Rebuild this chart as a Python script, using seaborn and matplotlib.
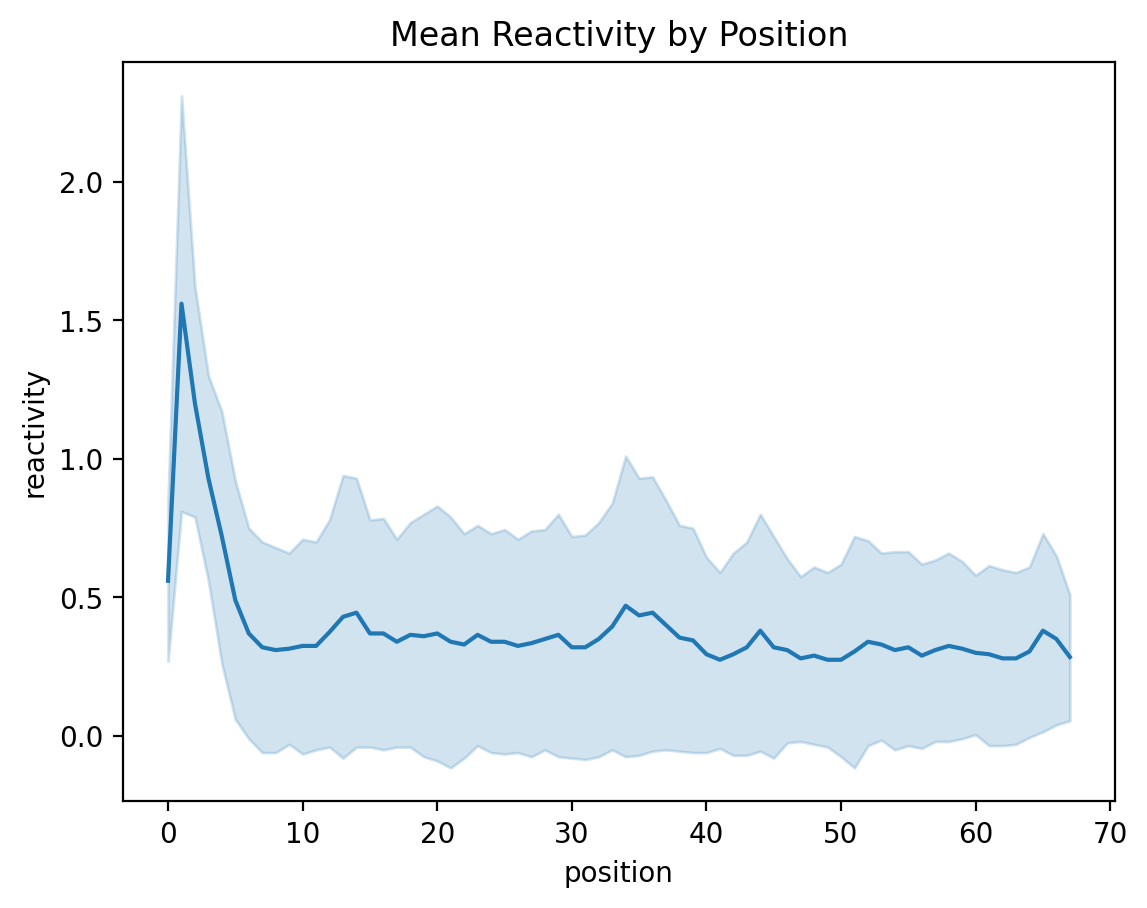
import matplotlib
matplotlib.use('Agg')
import matplotlib.pyplot as plt
import seaborn as sns
import numpy as np
import pandas as pd

# Mean reactivity per position, with the +/- 1 sd band
position = list(range(68))

mean_reactivity = [
    0.56, 1.56, 1.20, 0.93, 0.72, 0.49, 0.37, 0.32, 0.31, 0.315,
    0.325, 0.325, 0.375, 0.43, 0.445, 0.37, 0.37, 0.34, 0.365, 0.36,
    0.37, 0.34, 0.33, 0.365, 0.34, 0.34, 0.325, 0.335, 0.35, 0.365,
    0.32, 0.32, 0.35, 0.395, 0.47, 0.435, 0.445, 0.40, 0.355, 0.345,
    0.295, 0.275, 0.295, 0.32, 0.38, 0.32, 0.31, 0.28, 0.29, 0.275,
    0.275, 0.305, 0.34, 0.33, 0.31, 0.32, 0.29, 0.31, 0.325, 0.315,
    0.30, 0.295, 0.28, 0.28, 0.305, 0.38, 0.35, 0.285,
]

band_lower = [
    0.27, 0.81, 0.79, 0.56, 0.26, 0.06, -0.01, -0.06, -0.06, -0.03,
    -0.065, -0.05, -0.04, -0.08, -0.04, -0.04, -0.05, -0.04, -0.04, -0.075,
    -0.09, -0.115, -0.08, -0.035, -0.06, -0.065, -0.06, -0.075, -0.05, -0.075,
    -0.08, -0.085, -0.075, -0.05, -0.075, -0.07, -0.055, -0.05, -0.055, -0.06,
    -0.06, -0.045, -0.07, -0.07, -0.055, -0.08, -0.025, -0.02, -0.03, -0.04,
    -0.075, -0.115, -0.035, -0.015, -0.05, -0.035, -0.045, -0.02, -0.02, -0.01,
    0.005, -0.035, -0.035, -0.03, -0.005, 0.015, 0.04, 0.055,
]

band_upper = [
    0.85, 2.31, 1.62, 1.30, 1.17, 0.92, 0.75, 0.70, 0.68, 0.66,
    0.71, 0.70, 0.78, 0.94, 0.93, 0.78, 0.785, 0.71, 0.77, 0.80,
    0.83, 0.79, 0.73, 0.76, 0.73, 0.745, 0.71, 0.74, 0.745, 0.80,
    0.72, 0.725, 0.77, 0.84, 1.01, 0.93, 0.935, 0.85, 0.76, 0.75,
    0.645, 0.59, 0.66, 0.70, 0.80, 0.72, 0.64, 0.575, 0.61, 0.59,
    0.62, 0.72, 0.705, 0.66, 0.665, 0.665, 0.62, 0.635, 0.66, 0.63,
    0.58, 0.615, 0.60, 0.59, 0.61, 0.73, 0.65, 0.51,
]

df = pd.DataFrame({
    'position': position,
    'reactivity': mean_reactivity,
    'lower': band_lower,
    'upper': band_upper,
})

fig, ax = plt.subplots(figsize=(6.4, 4.8), dpi=200)

sns.lineplot(data=df, x='position', y='reactivity', color='C0', ax=ax)
ax.fill_between(df['position'], df['lower'], df['upper'],
                color='C0', alpha=0.2)

ax.set_title('Mean Reactivity by Position')
ax.set_xlabel('position')
ax.set_ylabel('reactivity')

plt.savefig('out.png', dpi=200, bbox_inches='tight')
plt.close()
